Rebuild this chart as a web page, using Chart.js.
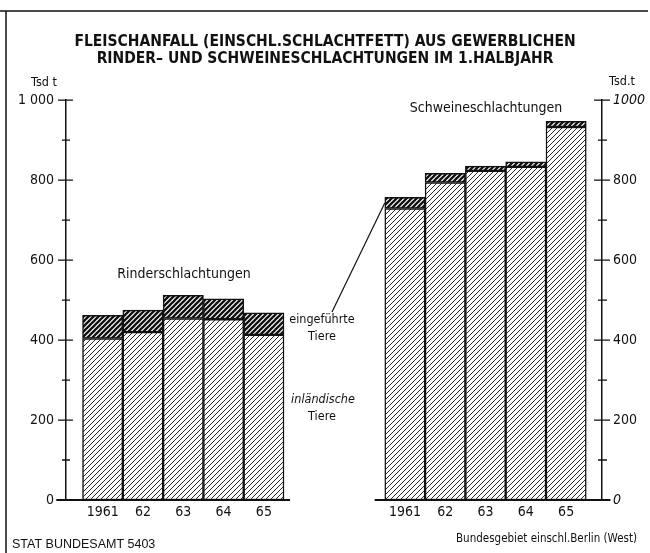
<!DOCTYPE html>
<html><head><meta charset="utf-8">
<script src="https://cdn.jsdelivr.net/npm/chart.js@4/dist/chart.umd.min.js"></script>
<style>html,body{margin:0;padding:0;background:#fff}#wrap{width:650px;height:553px;position:relative}</style>
</head><body><div id="wrap"><canvas id="c" width="650" height="553"></canvas></div>
<script>
// ---- data (Tsd t) ----
const years = ['1961', '62', '63', '64', '65'];
const rinderInland = [404, 420, 454, 452, 413];
const rinderImport = [58, 55, 58, 51, 55];
const schweineInland = [729, 794, 823, 833, 933];
const schweineImport = [28, 23, 12, 13, 14];
const yTickValues = [0, 100, 200, 300, 400, 500, 600, 700, 800, 900, 1000];
const titleLines = ['FLEISCHANFALL (EINSCHL.SCHLACHTFETT) AUS GEWERBLICHEN', 'RINDER\u2013 UND SCHWEINESCHLACHTUNGEN IM 1.HALBJAHR'];

// ---- layout constants ----
const GROUP_START = [0, 7.5];
const NARROW = '"Liberation Sans Narrow", "DejaVu Sans Condensed", "Noto Sans", sans-serif';
const REG = '"Liberation Sans", Arial, sans-serif';
const INK = '#111';

function hatch(size, lw) {
  const c = document.createElement('canvas');
  c.width = c.height = size;
  const g = c.getContext('2d');
  g.fillStyle = '#fff'; g.fillRect(0, 0, size, size);
  g.strokeStyle = INK; g.lineWidth = lw;
  g.beginPath();
  g.moveTo(-1, size + 1); g.lineTo(size + 1, -1);
  g.moveTo(-2, 2); g.lineTo(2, -2);
  g.moveTo(size - 2, size + 2); g.lineTo(size + 2, size - 2);
  g.stroke();
  return g.createPattern(c, 'repeat');
}
const ctx = document.getElementById('c').getContext('2d');
const lightHatch = hatch(5, 0.9);
const darkHatch = hatch(5, 2.3);

const xPos = [...years.map((_, i) => GROUP_START[0] + i), ...years.map((_, i) => GROUP_START[1] + i)];
const xLabels = [...years, ...years];
const inlandData = [...rinderInland, ...schweineInland].map((v, i) => ({ x: xPos[i], y: v }));
const importData = [...rinderImport, ...schweineImport].map((v, i) => ({ x: xPos[i], y: v }));

const decor = {
  id: 'decor',
  afterDraw(chart) {
    const c = chart.ctx, xs = chart.scales.x, ys = chart.scales.y;
    c.save();
    c.strokeStyle = INK; c.fillStyle = INK;
    // frame
    c.lineWidth = 1.5;
    c.beginPath(); c.moveTo(0, 11); c.lineTo(648, 11); c.moveTo(6, 11); c.lineTo(6, 553); c.stroke();
    // baselines
    const y0 = ys.getPixelForValue(0);
    c.lineWidth = 2;
    c.beginPath();
    c.moveTo(xs.getPixelForValue(-1.15), y0); c.lineTo(xs.getPixelForValue(4.65), y0);
    c.moveTo(xs.getPixelForValue(6.75), y0); c.lineTo(xs.getPixelForValue(12.6), y0);
    c.stroke();
    // tick marks crossing the axes
    c.lineWidth = 1.3;
    const lx = chart.chartArea.left, rx = chart.chartArea.right;
    yTickValues.forEach(v => {
      if (v === 0) return;
      const py = ys.getPixelForValue(v);
      const major = v % 200 === 0;
      c.beginPath();
      c.moveTo(lx - (major ? 8 : 4), py); c.lineTo(lx + (major ? 7 : 4), py);
      c.moveTo(rx - (major ? 8 : 4), py); c.lineTo(rx + (major ? 8 : 5), py);
      c.stroke();
    });
    // unit labels
    c.font = `12.5px ${NARROW}`; c.textBaseline = 'middle';
    c.textAlign = 'center';
    c.fillText('Tsd t', 44, 83);
    c.fillText('Tsd.t', 622, 82);
    // group titles
    c.font = `14px ${NARROW}`;
    c.fillText('Rinderschlachtungen', 184, 274);
    c.fillText('Schweineschlachtungen', 486, 108);
    // annotations
    c.font = `12.5px ${NARROW}`;
    c.fillText('eingeführte', 322, 320);
    c.fillText('Tiere', 322, 337);
    c.font = `italic 12.5px ${NARROW}`;
    c.fillText('inländische', 323, 400);
    c.font = `12.5px ${NARROW}`;
    c.fillText('Tiere', 322, 417);
    // leader line to the imported segment of the first pig bar
    c.lineWidth = 1.2;
    c.beginPath();
    c.moveTo(332, 312);
    c.lineTo(xs.getPixelForValue(GROUP_START[1] - 0.5), ys.getPixelForValue(schweineInland[0] + schweineImport[0] / 2));
    c.stroke();
    // footers
    c.textAlign = 'left';
    c.font = `12.5px ${REG}`;
    c.fillText('STAT BUNDESAMT 5403', 12, 545);
    c.textAlign = 'right';
    c.font = `11.5px ${NARROW}`;
    c.fillText('Bundesgebiet einschl.Berlin (West)', 637, 539);
    c.restore();
  }
};

const noGrid = { display: false, drawTicks: false, tickLength: 0 };

new Chart(ctx, {
  type: 'bar',
  data: {
    datasets: [
      { label: 'inländische Tiere', data: inlandData, backgroundColor: lightHatch, borderColor: INK, borderWidth: 1.5, borderSkipped: false },
      { label: 'eingeführte Tiere', data: importData, backgroundColor: darkHatch, borderColor: INK, borderWidth: 1.5, borderSkipped: false }
    ]
  },
  options: {
    responsive: false,
    animation: false,
    events: [],
    barPercentage: 1,
    categoryPercentage: 1,
    layout: { padding: 0 },
    plugins: {
      legend: { display: false },
      tooltip: { enabled: false },
      title: {
        display: true,
        text: titleLines,
        color: INK,
        font: { family: NARROW, size: 15.5, weight: 'bold', lineHeight: 1.07 },
        padding: { top: 34, bottom: 33 }
      }
    },
    scales: {
      x: {
        type: 'linear', stacked: true, offset: false,
        min: -0.91, max: 12.39,
        grid: noGrid, border: { display: false },
        afterBuildTicks: s => { s.ticks = xPos.map(v => ({ value: v })); },
        afterFit: s => { s.height = 53; },
        ticks: {
          autoSkip: false, maxRotation: 0, padding: 4, color: INK,
          font: { family: NARROW, size: 14 },
          callback: (v, i) => xLabels[i]
        }
      },
      y: {
        position: 'left', stacked: true, min: 0, max: 1000,
        grid: noGrid, border: { display: true, color: INK, width: 1.5 },
        afterBuildTicks: s => { s.ticks = yTickValues.map(v => ({ value: v })); },
        afterFit: s => { s.width = 66; },
        ticks: {
          autoSkip: false, padding: 12, color: INK,
          font: { family: NARROW, size: 14 },
          callback: v => (v % 200 === 0 ? (v === 1000 ? '1 000' : String(v)) : '')
        }
      },
      y2: {
        position: 'right', min: 0, max: 1000,
        grid: noGrid, border: { display: true, color: INK, width: 1.5 },
        afterBuildTicks: s => { s.ticks = yTickValues.map(v => ({ value: v })); },
        afterFit: s => { s.width = 48; },
        ticks: {
          autoSkip: false, padding: 11, color: INK,
          font: ctx => ({ family: NARROW, size: 14, style: (ctx.tick && (ctx.tick.value === 1000 || ctx.tick.value === 0)) ? 'italic' : 'normal' }),
          callback: v => (v % 200 === 0 ? String(v) : '')
        }
      }
    }
  },
  plugins: [decor]
});
</script>
</body></html>
